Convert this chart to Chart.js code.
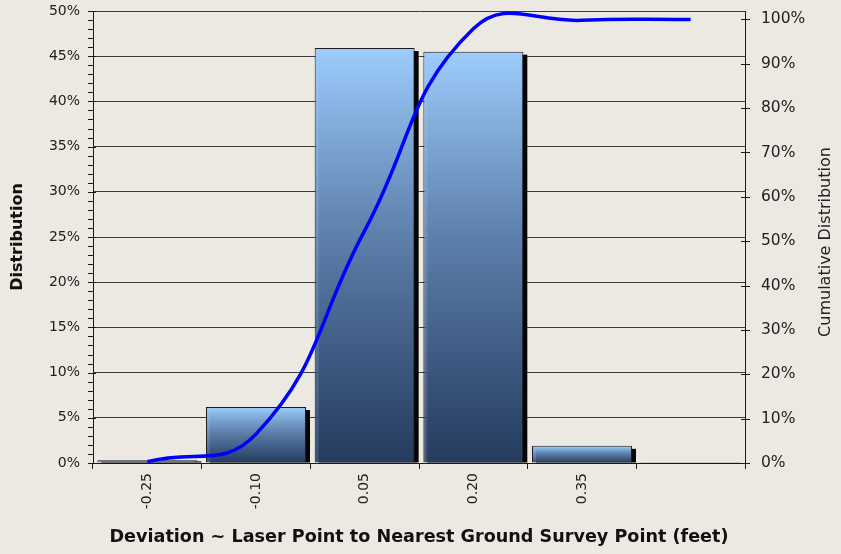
<!DOCTYPE html>
<html>
<head>
<meta charset="utf-8">
<script src="https://cdn.jsdelivr.net/npm/chart.js@4"></script>
<style>
  html, body { margin: 0; padding: 0; background: #ebe9e2; }
  #wrap { width: 841px; height: 554px; }
</style>
</head>
<body>
<div id="wrap"><canvas id="grafica"></canvas></div>
<script>
// deviation bins (feet) – last bin has no label
const bins = ['-0.25', '-0.10', '0.05', '0.20', '0.35', ''];
// share of points per bin (%)
const distribution = [0.3, 6.2, 45.9, 45.5, 1.9, 0.1];
// running total (%)
const cumulative = [0.3, 6.5, 52.4, 97.9, 99.8, 100];
const leftTicks = [0, 5, 10, 15, 20, 25, 30, 35, 40, 45, 50];
const rightTicks = [0, 10, 20, 30, 40, 50, 60, 70, 80, 90, 100];
const rightTitle = 'Cumulative Distribution';

const fuente = '"DejaVu Sans", sans-serif';
const tinta = '#1a1a1a';

// per-bar vertical gradient: light blue at the top, navy at the base
// (slightly see-through lower down so the grid shows faintly)
function degradado(c) {
  const chart = c.chart;
  if (!chart.chartArea || c.raw === undefined) return '#6d93c4';
  const y = chart.scales.y;
  const top = y.getPixelForValue(c.raw);
  const bottom = y.getPixelForValue(0);
  const g = chart.ctx.createLinearGradient(0, top, 0, bottom);
  g.addColorStop(0, 'rgba(157,205,253,1)');
  g.addColorStop(0.45, 'rgba(100,137,184,0.93)');
  g.addColorStop(1, 'rgba(40,64,104,0.9)');
  return g;
}

// solid shadow strip to the right of each bar
const sombra = {
  id: 'sombra',
  beforeDatasetsDraw(chart) {
    const ctx = chart.ctx;
    ctx.save();
    chart.data.datasets.forEach((ds, i) => {
      const meta = chart.getDatasetMeta(i);
      if (meta.type !== 'bar') return;
      meta.data.forEach(el => {
        const p = el.getProps(['x', 'y', 'base', 'width'], true);
        const h = p.base - p.y;
        if (h < 1) return;
        ctx.fillStyle = '#050505';
        ctx.fillRect(p.x - p.width / 2 + 4, p.y + Math.min(3, h / 2), p.width, h - Math.min(3, h / 2));
      });
    });
    ctx.restore();
  }
};

// tick marks: minor + major on the left axis, crossing marks on the right,
// plus the right-hand title reading bottom to top
const marcas = {
  id: 'marcas',
  afterDraw(chart) {
    const ctx = chart.ctx;
    const y = chart.scales.y, y2 = chart.scales.y2;
    const xl = chart.chartArea.left, xr = chart.chartArea.right;
    ctx.save();
    ctx.strokeStyle = tinta;
    ctx.lineWidth = 1;
    ctx.beginPath();
    for (let v = 0; v <= 50; v++) {
      const py = Math.round(y.getPixelForValue(v)) + 0.5;
      const major = v % 5 === 0;
      ctx.moveTo(xl - 5, py);
      ctx.lineTo(major ? xl + 3 : xl, py);
    }
    rightTicks.forEach(v => {
      const py = Math.round(y2.getPixelForValue(v)) + 0.5;
      ctx.moveTo(xr - 4, py);
      ctx.lineTo(xr + 5, py);
    });
    ctx.stroke();

    ctx.translate(826, 242);
    ctx.rotate(-Math.PI / 2);
    ctx.fillStyle = '#222';
    ctx.font = '16px ' + fuente;
    ctx.textAlign = 'center';
    ctx.textBaseline = 'middle';
    ctx.fillText(rightTitle, 0, 0);
    ctx.restore();
  }
};

// keep the plot box where the axes put it, without label overhang padding
function sinRelleno(s) {
  s.paddingTop = 0;
  s.paddingBottom = 0;
}

const ctx = document.getElementById('grafica').getContext('2d');
new Chart(ctx, {
  data: {
    labels: bins,
    datasets: [{
      type: 'line',
      label: rightTitle,
      data: cumulative,
      yAxisID: 'y2',
      borderColor: '#0000ff',
      borderWidth: 3.5,
      pointRadius: 0,
      tension: 0.45,
      capBezierPoints: false,
      order: 0
    }, {
      type: 'bar',
      label: 'Distribution',
      data: distribution,
      yAxisID: 'y',
      backgroundColor: degradado,
      borderColor: '#1c1c1c',
      borderWidth: 1,
      borderSkipped: 'bottom',
      categoryPercentage: 1,
      barPercentage: 0.92,
      order: 1
    }]
  },
  options: {
    responsive: true,
    maintainAspectRatio: false,
    animation: false,
    layout: { padding: { top: 11 } },
    plugins: {
      legend: { display: false },
      tooltip: { enabled: false }
    },
    scales: {
      x: {
        offset: true,
        grid: { offset: true, drawOnChartArea: false, tickLength: 6, color: tinta },
        border: { color: tinta },
        ticks: { minRotation: 90, maxRotation: 90, color: '#222', padding: 4,
                 font: { family: fuente, size: 14 } },
        title: { display: true, text: 'Deviation ~ Laser Point to Nearest Ground Survey Point (feet)',
                 color: '#111', font: { family: fuente, size: 17.6, weight: 'bold' }, padding: { top: 14, bottom: 6 } },
        afterFit(s) { s.height = 91; }
      },
      y: {
        position: 'left',
        min: 0, max: 50,
        afterBuildTicks(s) { s.ticks = leftTicks.map(v => ({ value: v })); },
        grid: { color: '#3a3a3a', drawTicks: false },
        border: { color: tinta },
        ticks: { color: '#222', padding: 13, callback: v => v + '%',
                 font: { family: fuente, size: 14 } },
        title: { display: true, text: 'Distribution', color: '#111',
                 font: { family: fuente, size: 16, weight: 'bold' }, padding: { top: 8, bottom: 0 } },
        afterFit(s) { s.width = 93; sinRelleno(s); }
      },
      y2: {
        position: 'right',
        min: 0, max: 101.9,
        afterBuildTicks(s) { s.ticks = rightTicks.map(v => ({ value: v })); },
        grid: { drawOnChartArea: false, drawTicks: false },
        border: { color: tinta },
        ticks: { color: '#222', padding: 16, callback: v => v + '%',
                 font: { family: fuente, size: 15.5 } },
        afterFit(s) { s.width = 96; sinRelleno(s); }
      }
    }
  },
  plugins: [sombra, marcas]
});
</script>
</body>
</html>
